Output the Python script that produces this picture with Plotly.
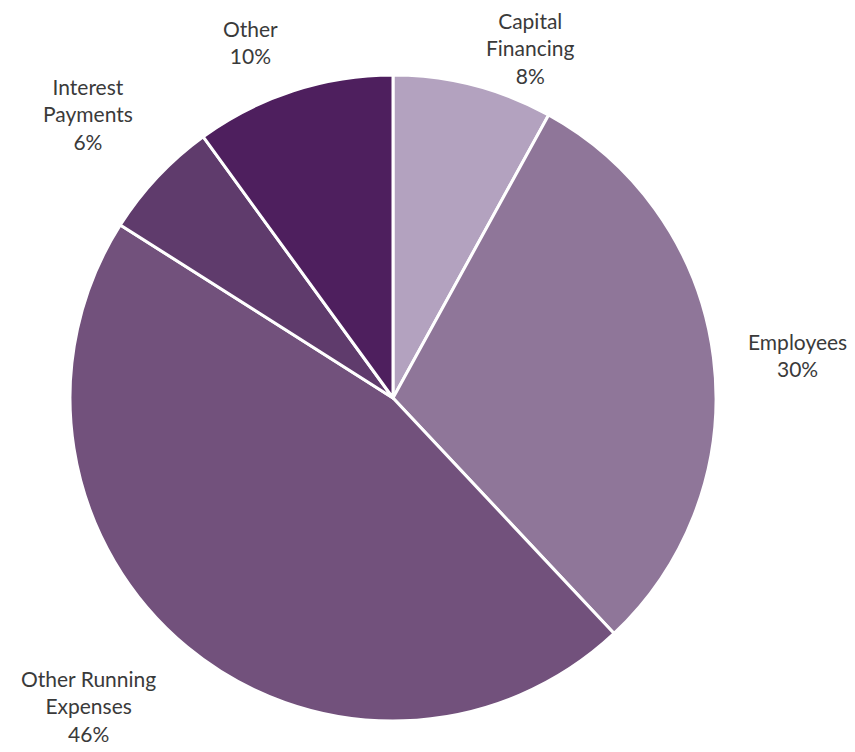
import plotly.graph_objects as go

categories = ["Capital Financing", "Employees", "Other Running Expenses", "Interest Payments", "Other"]
display_labels = ["Capital<br>Financing", "Employees", "Other Running<br>Expenses", "Interest<br>Payments", "Other"]
values = [8, 30, 46, 6, 10]
colors = ["#b3a2bf", "#8f7699", "#72517c", "#5f3b6c", "#4e1f5e"]

# label anchor positions (paper coords)
label_pos = [(530 / 855, 1 - 48 / 752), (797 / 855, 1 - 355 / 752), (88 / 855, 1 - 706 / 752),
             (88 / 855, 1 - 114 / 752), (250 / 855, 1 - 42 / 752)]

fig = go.Figure(go.Pie(
    labels=categories,
    values=values,
    sort=False,
    direction="clockwise",
    rotation=0,
    marker=dict(colors=colors, line=dict(color="white", width=3)),
    textinfo="none",
    hoverinfo="label+percent",
    domain=dict(x=[70 / 855, 716 / 855], y=[1 - 721 / 752, 1 - 75 / 752]),
    showlegend=False,
))

total = sum(values)
for lab, v, (px, py) in zip(display_labels, values, label_pos):
    fig.add_annotation(
        x=px, y=py, xref="paper", yref="paper",
        text=f"{lab}<br>{round(100 * v / total)}%",
        showarrow=False, xanchor="center", yanchor="middle",
        font=dict(family="Lato", size=21, color="#3a3a3a"),
    )

fig.update_layout(
    width=855, height=752,
    margin=dict(l=0, r=0, t=0, b=0),
    paper_bgcolor="white",
    plot_bgcolor="white",
)

fig.write_html("out.html", config={"displayModeBar": False},
               post_script="document.body.style.margin='0px';")
